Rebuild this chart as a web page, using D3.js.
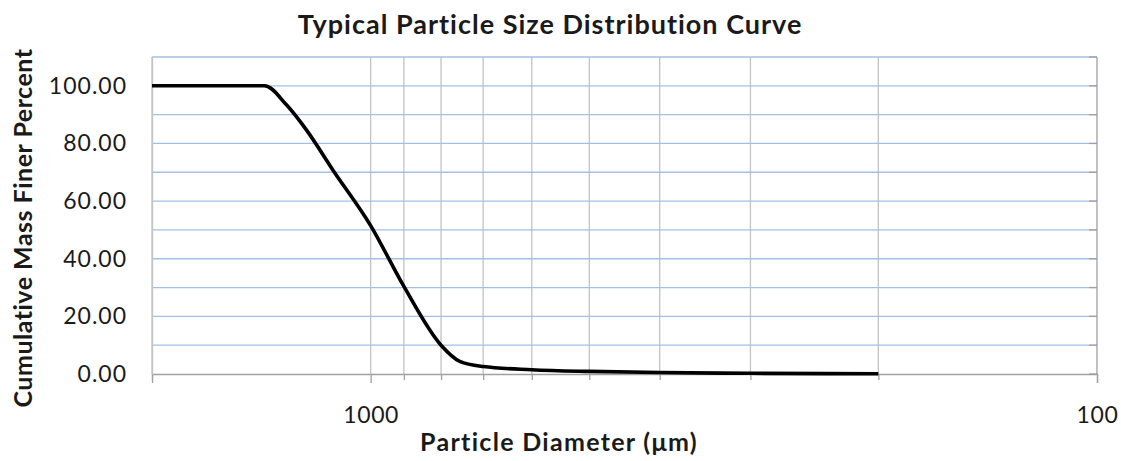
<!DOCTYPE html>
<html>
<head>
<meta charset="utf-8">
<script src="https://cdn.jsdelivr.net/npm/d3@7"></script>
<style>
  body { margin: 0; background: #fff; }
  svg text { font-family: Lato, "Noto Sans", sans-serif; fill: #1a1a1a; }
</style>
</head>
<body>
<div id="chart"></div>
<script>
// particle diameter (um) and cumulative mass finer (%)
const diameters = [2000, 1400, 1306, 1226, 1128, 1000, 900, 800, 754, 700, 600, 500, 400, 300, 200];
const percentFiner = [100, 100, 93.4, 84.7, 70.9, 51.5, 30.4, 10.0, 4.4, 2.6, 1.5, 0.9, 0.5, 0.25, 0.1];

const xMajorTicks = [1000, 100];
const xMinorTicks = [2000, 900, 800, 700, 600, 500, 400, 300, 200];
const yTicks = [0, 20, 40, 60, 80, 100];
const yGrid = [10, 20, 30, 40, 50, 60, 70, 80, 90, 100, 110];

const width = 1121, height = 461;
const margin = {top: 57, right: 24, bottom: 87, left: 152};
const plotW = width - margin.left - margin.right,
      plotH = height - margin.top - margin.bottom;

const svg = d3.select('#chart').append('svg')
  .attr('width', width)
  .attr('height', height);

// log axis running from coarse (left) to fine (right)
const x = d3.scaleLog().domain([2000, 100]).range([0, plotW]);
const y = d3.scaleLinear().domain([0, 110]).range([plotH, 0]);

const g = svg.append('g').attr('transform', `translate(${margin.left},${margin.top})`);

// vertical gridlines (grey)
g.selectAll('.vgrid')
  .data(xMinorTicks.concat([1000]))
  .join('line')
  .attr('x1', d => x(d)).attr('x2', d => x(d))
  .attr('y1', 0).attr('y2', plotH)
  .attr('stroke', '#c3c3c3')
  .attr('stroke-width', 1.3);

// horizontal gridlines (light blue)
g.selectAll('.hgrid')
  .data(yGrid)
  .join('line')
  .attr('x1', 0).attr('x2', plotW)
  .attr('y1', d => y(d)).attr('y2', d => y(d))
  .attr('stroke', '#a2bfe4')
  .attr('stroke-width', 1.3);

// right-hand value axis: border with inward ticks
g.append('line')
  .attr('x1', plotW).attr('x2', plotW)
  .attr('y1', 0).attr('y2', plotH)
  .attr('stroke', '#a0a0a0').attr('stroke-width', 1.3);
g.selectAll('.rtick')
  .data(yGrid.concat([0]))
  .join('line')
  .attr('x1', plotW - 8).attr('x2', plotW)
  .attr('y1', d => y(d)).attr('y2', d => y(d))
  .attr('stroke', '#a0a0a0').attr('stroke-width', 1.3);

// bottom axis via d3 with custom ticks
const xAxisMinor = d3.axisBottom(x).tickValues(xMinorTicks).tickSize(6).tickFormat('');
const xAxisMajor = d3.axisBottom(x).tickValues(xMajorTicks).tickSize(9).tickPadding(24)
  .tickFormat(d3.format('d'));

g.append('g').attr('transform', `translate(0,${plotH})`).call(xAxisMinor)
  .call(a => a.select('.domain').remove())
  .call(a => a.selectAll('line').attr('stroke', '#a0a0a0').attr('stroke-width', 1.3));

g.append('g').attr('transform', `translate(0,${plotH})`).call(xAxisMajor)
  .call(a => a.select('.domain').attr('stroke', '#a0a0a0').attr('stroke-width', 1.3))
  .call(a => a.selectAll('line').attr('stroke', '#a0a0a0').attr('stroke-width', 1.3))
  .call(a => a.selectAll('text').attr('font-size', 23).style('font-family', 'Lato')
    .style('letter-spacing', '0.6px').attr('fill', '#1a1a1a'));

// left value labels
const yAxis = d3.axisLeft(y).tickValues(yTicks).tickSize(0).tickPadding(25)
  .tickFormat(d3.format('.2f'));
g.append('g').call(yAxis)
  .call(a => a.select('.domain').attr('stroke', '#c3c3c3').attr('stroke-width', 1.3))
  .call(a => a.selectAll('text').attr('font-size', 23).style('font-family', 'Lato')
    .style('letter-spacing', '1px').attr('fill', '#1a1a1a'));

// curve
const pts = diameters.map((d, i) => [d, percentFiner[i]]);
const line = d3.line()
  .x(d => x(d[0]))
  .y(d => y(d[1]))
  .curve(d3.curveMonotoneX);

g.append('path')
  .datum(pts)
  .attr('d', line)
  .attr('fill', 'none')
  .attr('stroke', '#000')
  .attr('stroke-width', 3.6)
  .attr('stroke-linejoin', 'round');

// titles
svg.append('text')
  .attr('x', 550).attr('y', 34)
  .attr('text-anchor', 'middle')
  .attr('font-size', 27).attr('font-weight', 'bold')
  .style('letter-spacing', '1px')
  .text('Typical Particle Size Distribution Curve');

svg.append('text')
  .attr('x', 559).attr('y', 451)
  .attr('text-anchor', 'middle')
  .attr('font-size', 25).attr('font-weight', 'bold')
  .style('letter-spacing', '1.3px')
  .text('Particle Diameter (μm)');

svg.append('text')
  .attr('transform', 'translate(32,228) rotate(-90)')
  .attr('text-anchor', 'middle')
  .attr('font-size', 25).attr('font-weight', 'bold')
  .style('letter-spacing', '0.5px')
  .text('Cumulative Mass Finer Percent');
</script>
</body>
</html>
